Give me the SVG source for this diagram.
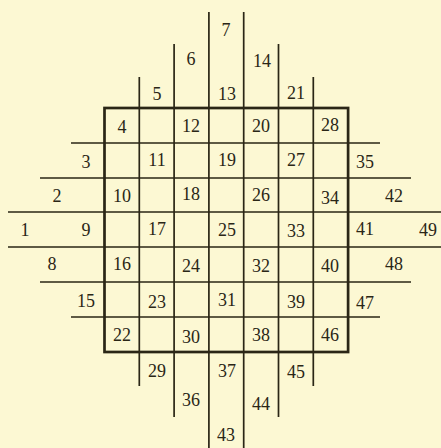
<svg xmlns="http://www.w3.org/2000/svg" width="441" height="448" viewBox="0 0 441 448">
<style>
.l{stroke:#2a2616;stroke-width:1.7;fill:none}
.b{stroke:#2a2616;stroke-width:2.7;fill:none}
text{font-family:"Liberation Serif","DejaVu Serif",serif;font-size:18px;fill:#2a2616;text-anchor:middle;dominant-baseline:central}
</style>
<rect width="441" height="448" fill="#fcf8d3"/>
<g id="grid">
<path class="l" d="M139.3 77V386 M174.1 44V417 M208.9 12V448 M243.7 12V448 M278.5 44V417 M313.3 77V386"/>
<path class="l" d="M71 143H380 M40 178H411 M8 212H441 M8 247H441 M40 282H411 M71 317H380"/>
<rect class="b" x="104.5" y="108" width="243.6" height="244"/>
</g>
<g id="labels">
<text x="226" y="30">7</text>
<text x="191" y="59">6</text><text x="262" y="61">14</text>
<text x="157" y="94">5</text><text x="227" y="94">13</text><text x="296" y="93">21</text>
<text x="122" y="127">4</text><text x="191" y="126">12</text><text x="261" y="126">20</text><text x="330" y="125">28</text>
<text x="86" y="162">3</text><text x="157" y="160">11</text><text x="227" y="160">19</text><text x="296" y="160">27</text><text x="365" y="162">35</text>
<text x="57" y="196">2</text><text x="122" y="196">10</text><text x="191" y="194">18</text><text x="261" y="195">26</text><text x="330" y="198">34</text><text x="394" y="196">42</text>
<text x="25" y="230">1</text><text x="86" y="230">9</text><text x="157" y="229">17</text><text x="227" y="230">25</text><text x="296" y="231">33</text><text x="365" y="229">41</text><text x="428" y="230">49</text>
<text x="52" y="264">8</text><text x="122" y="264">16</text><text x="191" y="266">24</text><text x="261" y="266">32</text><text x="330" y="266">40</text><text x="394" y="264">48</text>
<text x="86" y="301">15</text><text x="157" y="302">23</text><text x="227" y="300">31</text><text x="296" y="302">39</text><text x="365" y="303">47</text>
<text x="122" y="335">22</text><text x="191" y="337">30</text><text x="261" y="335">38</text><text x="330" y="335">46</text>
<text x="157" y="371">29</text><text x="227" y="371">37</text><text x="296" y="372">45</text>
<text x="191" y="400">36</text><text x="261" y="404">44</text>
<text x="226" y="435">43</text>
</g>
</svg>
